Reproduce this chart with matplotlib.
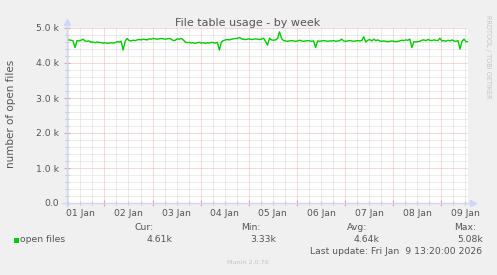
import matplotlib
matplotlib.use("Agg")
import matplotlib.pyplot as plt
import matplotlib.dates as mdates
from matplotlib.ticker import MultipleLocator, FuncFormatter
from matplotlib.patches import Rectangle
import pandas as pd

# data (hourly samples, values in thousands)
start = pd.Timestamp("2026-01-01 05:20")
end = pd.Timestamp("2026-01-09 13:20")
open_files_k = [
    4.66, 4.66, 4.65, 4.64, 4.44, 4.64, 4.63, 4.65, 4.68, 4.63, 4.62, 4.63,
    4.59, 4.60, 4.58, 4.60, 4.59, 4.58, 4.57, 4.58, 4.56, 4.57, 4.58, 4.57,
    4.58, 4.61, 4.60, 4.62, 4.37, 4.62, 4.70, 4.64, 4.63, 4.65, 4.64, 4.66,
    4.67, 4.66, 4.68, 4.67, 4.66, 4.69, 4.68, 4.70, 4.69, 4.68, 4.69, 4.70,
    4.69, 4.68, 4.69, 4.70, 4.68, 4.64, 4.65, 4.69, 4.68, 4.70, 4.66, 4.60,
    4.58, 4.59, 4.57, 4.58, 4.56, 4.58, 4.59, 4.57, 4.58, 4.56, 4.58, 4.57,
    4.59, 4.58, 4.57, 4.59, 4.37, 4.60, 4.64, 4.66, 4.67, 4.66, 4.68, 4.69,
    4.70, 4.70, 4.73, 4.69, 4.68, 4.67, 4.68, 4.69, 4.67, 4.68, 4.69, 4.68,
    4.67, 4.68, 4.71, 4.62, 4.51, 4.71, 4.66, 4.65, 4.66, 4.70, 4.89, 4.70,
    4.64, 4.63, 4.62, 4.63, 4.64, 4.63, 4.62, 4.63, 4.65, 4.63, 4.62, 4.63,
    4.64, 4.63, 4.62, 4.63, 4.44, 4.63, 4.62, 4.63, 4.64, 4.63, 4.62, 4.63,
    4.63, 4.64, 4.62, 4.63, 4.64, 4.68, 4.63, 4.62, 4.63, 4.64, 4.63, 4.62,
    4.63, 4.64, 4.63, 4.64, 4.75, 4.60, 4.65, 4.67, 4.63, 4.68, 4.64, 4.66,
    4.63, 4.62, 4.63, 4.62, 4.61, 4.62, 4.63, 4.62, 4.61, 4.62, 4.63, 4.65,
    4.64, 4.66, 4.65, 4.68, 4.44, 4.61, 4.60, 4.61, 4.62, 4.65, 4.66, 4.64,
    4.67, 4.65, 4.64, 4.66, 4.65, 4.64, 4.71, 4.63, 4.64, 4.62, 4.65, 4.63,
    4.66, 4.63, 4.62, 4.64, 4.40, 4.62, 4.68, 4.61, 4.61,
]
stat_names = ["Cur:", "Min:", "Avg:", "Max:"]
stat_values = ["4.61k", "3.33k", "4.64k", "5.08k"]
series_name = "open files"

times = pd.date_range(start, end, freq="1h")
values = [v * 1000 for v in open_files_k]

W, H = 497, 275
BG = "#F0F0F0"
TXT = "#555555"
AXC = "#CFD6F8"
MINOR = "#D8D8D8"
MAJOR = "#F0B4B4"
GREEN = "#00CC00"
DOT = (0, (1, 1))


def px(x, y):
    return x / W, 1 - y / H


fig = plt.figure(figsize=(W / 100, H / 100), dpi=100, facecolor=BG)
ax = fig.add_axes([67 / W, 72 / H, 401 / W, 175 / H], facecolor="white")

ax.plot(times, values, color=GREEN, lw=1.0, zorder=3)
ax.set_xlim(start, end)
ax.set_ylim(0, 5000)

# x axis: red lines at midnight, grey every 6h, labels at noon
ax.xaxis.set_major_locator(mdates.DayLocator())
ax.xaxis.set_major_formatter(FuncFormatter(lambda v, p: ""))
ax.xaxis.set_minor_locator(mdates.HourLocator(byhour=[6, 12, 18]))
ax.xaxis.set_minor_formatter(FuncFormatter(
    lambda v, p: mdates.num2date(v).strftime("%d %b") if mdates.num2date(v).hour == 12 else ""))

ax.yaxis.set_major_locator(MultipleLocator(1000))
ax.yaxis.set_minor_locator(MultipleLocator(200))
ax.yaxis.set_major_formatter(FuncFormatter(lambda v, p: "0.0" if v == 0 else "%.1f k" % (v / 1000)))

ax.grid(which="minor", color=MINOR, lw=0.72, linestyle=DOT)
ax.grid(which="major", color=MAJOR, lw=0.72, linestyle=DOT)
ax.set_axisbelow(True)

for s in ax.spines.values():
    s.set_visible(False)

ax.tick_params(axis="x", which="major", direction="inout", length=4, width=0.8, color="#E8A0A0")
ax.tick_params(axis="x", which="minor", direction="inout", length=3, width=0.8, color="#C8C8C8",
               labelsize=6.7, labelcolor=TXT, pad=2.5)
ax.tick_params(axis="y", which="major", direction="inout", length=4, width=0.8, color="#E8A0A0",
               labelsize=6.7, labelcolor=TXT, pad=3.5)
ax.tick_params(axis="y", which="minor", direction="inout", length=3, width=0.8, color="#C8C8C8")

# axis lines with arrows
ax.plot([-0.012, 1.01], [0, 0], color=AXC, lw=1, transform=ax.transAxes, clip_on=False, zorder=4)
ax.plot([0, 0], [-0.015, 1.03], color=AXC, lw=1, transform=ax.transAxes, clip_on=False, zorder=4)
ax.plot([1.012], [0], marker=">", ms=4, color=AXC, transform=ax.transAxes, clip_on=False, zorder=4)
ax.plot([0], [1.032], marker="^", ms=4, color=AXC, transform=ax.transAxes, clip_on=False, zorder=4)

# titles
fig.text(*px(248, 25.5), "File table usage - by week", ha="center", va="baseline", fontsize=8, color=TXT)
fig.text(*px(11, 114), "number of open files", rotation=90, ha="center", va="center", fontsize=7.5, color=TXT)
fig.text(*px(488, 15), "RRDTOOL / TOBI OETIKER", rotation=270, ha="center", va="top", fontsize=4.7, color="#C4C4C4")

# legend
header_x = [144, 251, 357, 465]
value_x = [172, 276, 379, 483]
for name, hx in zip(stat_names, header_x):
    fig.text(*px(hx, 227.5), name, ha="center", va="center", fontsize=6.7, color=TXT)
for val, vx in zip(stat_values, value_x):
    fig.text(*px(vx, 240), val, ha="right", va="center", fontsize=6.7, color=TXT)
fig.patches.append(Rectangle(px(14, 242.5), 5 / W, 5 / H, transform=fig.transFigure,
                             facecolor=GREEN, edgecolor=GREEN, lw=0))
fig.text(*px(20, 240), series_name, ha="left", va="center", fontsize=6.7, color=TXT)
fig.text(*px(482.5, 251), "Last update: Fri Jan  9 13:20:00 2026", ha="right", va="center",
         fontsize=6.7, color=TXT)
fig.text(*px(248, 262.5), "Munin 2.0.76", ha="center", va="center", fontsize=4.6, color="#C4C4C4")

fig.savefig("out.png", dpi=100, facecolor=BG)
